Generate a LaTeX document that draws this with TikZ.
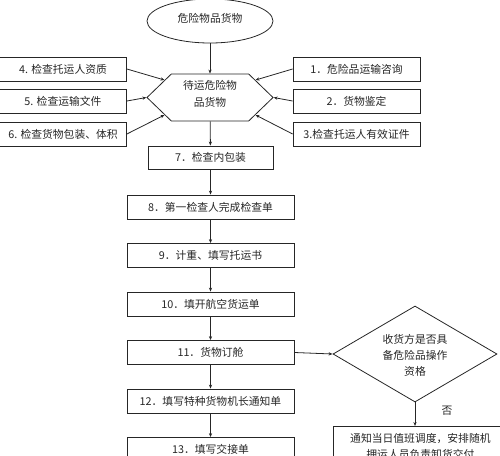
\documentclass[tikz,border=0pt]{standalone}
\usepackage{fontspec}
\setmainfont{Noto Sans CJK SC}
\usetikzlibrary{shapes.geometric,shapes.symbols,arrows.meta}
\begin{document}
\begin{tikzpicture}[x=1pt,y=-1pt,
  every node/.style={font=\fontsize{10.8}{16}\selectfont,text=black!85},
  box/.style={draw=black!85,line width=0.8pt,rectangle,inner sep=0pt,minimum height=24pt},
  arr/.style={draw=black!85,line width=0.8pt,-{Stealth[length=4pt,width=3.2pt]}}]
\useasboundingbox (0,0) rectangle (500,455);
\clip (0,0) rectangle (500,455);
% top ellipse
\node[draw=black!85,line width=0.8pt,ellipse,minimum width=126pt,minimum height=44pt,inner sep=0pt] (src) at (210,21) {};
\node at (210,18) {危险物品货物};
% hexagon
\node[draw=black!85,line width=0.8pt,signal,signal to=west and east,signal pointer angle=88,minimum width=126pt,minimum height=47pt,inner sep=0pt] (hex) at (210,97.5) {};
\node[align=center,font=\fontsize{10.8}{17}\selectfont] at (210,94) {待运危险物\\品货物};
% left boxes
\node[box,minimum width=127pt] (b4) at (63,69) {4. 检查托运人资质};
\node[box,minimum width=127pt] (b5) at (63,101) {5. 检查运输文件};
\node[box,minimum width=127pt] (b6) at (63,134) {6. 检查货物包装、体积};
% right boxes
\node[box,minimum width=127pt] (b1) at (356.5,69) {1．危险品运输咨询};
\node[box,minimum width=127pt] (b2) at (356.5,101) {2．货物鉴定};
\node[box,minimum width=127pt] (b3) at (356.5,134) {3.检查托运人有效证件};
% column
\node[box,minimum width=125pt,minimum height=23pt] (b7) at (210.5,157.5) {7．检查内包装};
\node[box,minimum width=167pt] (b8) at (210.5,207) {8．第一检查人完成检查单};
\node[box,minimum width=167pt] (b9) at (210.5,255.5) {9．计重、填写托运书};
\node[box,minimum width=167pt] (b10) at (210.5,304) {10．填开航空货运单};
\node[box,minimum width=167pt] (b11) at (210.5,352.5) {11．货物订舱};
\node[box,minimum width=167pt] (b12) at (210.5,401) {12．填写特种货物机长通知单};
\node[box,minimum width=167pt] (b13) at (210.5,449.5) {13．填写交接单};
% diamond
\node[draw=black!85,line width=0.8pt,diamond,minimum width=164pt,minimum height=96pt,inner sep=0pt] (dec) at (415,354) {};
\node[align=center] at (415,355) {收货方是否具\\备危险品操作\\资格};
\node (no) at (447,411) {否};
% final box
\node[box,anchor=north west,text width=168pt,align=center,inner sep=3pt,minimum height=40pt] (fin) at (333,426) {通知当日值班调度，安排随机\\押运人员负责卸货交付};
% connectors
\draw[arr] (src) -- (hex);
\draw[arr] (b4.east) -- (hex.159);
\draw[arr] (b5.east) -- (hex.west);
\draw[arr] (b6.east) -- (hex.201);
\draw[arr] (b1.west) -- (hex.21);
\draw[arr] (b2.west) -- (hex.east);
\draw[arr] (b3.west) -- (hex.339);
\draw[arr] (hex) -- (b7);
\draw[arr] (b7) -- (b8);
\draw[arr] (b8) -- (b9);
\draw[arr] (b9) -- (b10);
\draw[arr] (b10) -- (b11);
\draw[arr] (b11) -- (b12);
\draw[arr] (b12) -- (b13);
\draw[arr] (b11.east) -- (dec.west);
\draw[arr] (dec.south) -- (dec.south |- fin.north);
\end{tikzpicture}
\end{document}
